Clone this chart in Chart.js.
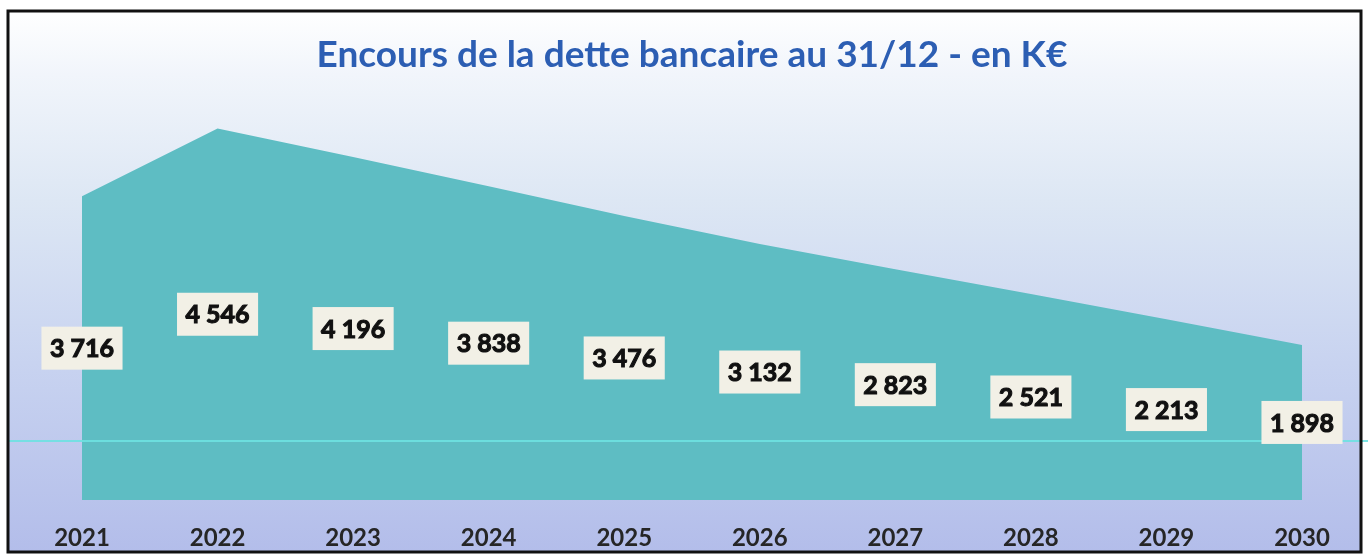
<!DOCTYPE html>
<html>
<head>
<meta charset="utf-8">
<title>Encours de la dette bancaire</title>
<script src="https://cdn.jsdelivr.net/npm/chart.js@4/dist/chart.umd.min.js"></script>
<style>
  body { margin: 0; background: #fff; }
  #wrap { width: 1368px; height: 556px; }
</style>
</head>
<body>
<div id="wrap"><canvas id="detteChart" width="1368" height="556"></canvas></div>
<script>
const years = ['2021', '2022', '2023', '2024', '2025', '2026', '2027', '2028', '2029', '2030'];
const encours = [3716, 4546, 4196, 3838, 3476, 3132, 2823, 2521, 2213, 1898];
const chartTitle = 'Encours de la dette bancaire au 31/12 - en K€';

// nombre avec espace pour les milliers : 3 716
function fmt(n) {
    return String(n).replace(/\B(?=(\d{3})+(?!\d))/g, ' ');
}

// fond dégradé + cadre noir
const framePlugin = {
    id: 'frame',
    beforeDraw(chart) {
        const ctx = chart.ctx;
        const g = ctx.createLinearGradient(0, 10, 0, 553);
        g.addColorStop(0, '#ffffff');
        g.addColorStop(0.12, '#f1f5fb');
        g.addColorStop(0.35, '#dde7f4');
        g.addColorStop(0.65, '#c8d3f0');
        g.addColorStop(1, '#b3bdea');
        ctx.save();
        ctx.fillStyle = g;
        ctx.fillRect(7, 10, 1355, 543);
        ctx.restore();
    },
    afterDatasetsDraw(chart) {
        // ligne cyan horizontale du scan
        const ctx = chart.ctx;
        ctx.save();
        ctx.strokeStyle = 'rgba(110,225,225,0.9)';
        ctx.lineWidth = 2;
        ctx.beginPath();
        ctx.moveTo(7, 441);
        ctx.lineTo(1368, 441);
        ctx.stroke();
        ctx.restore();
    },
    afterDraw(chart) {
        const ctx = chart.ctx;
        ctx.save();
        ctx.strokeStyle = '#111';
        ctx.lineWidth = 3;
        ctx.strokeRect(8, 11, 1353, 541);
        ctx.restore();
    }
};

// étiquettes de valeurs au milieu de l'aire
const labelPlugin = {
    id: 'valueLabels',
    afterDatasetsDraw(chart) {
        const ctx = chart.ctx;
        const xs = chart.scales.x;
        const ys = chart.scales.y;
        ctx.save();
        ctx.font = 'bold 25px Lato';
        ctx.textAlign = 'center';
        ctx.textBaseline = 'middle';
        ctx.lineWidth = 1.1;
        ctx.strokeStyle = '#111';
        encours.forEach((v, i) => {
            const x = xs.getPixelForValue(i);
            const y = ys.getPixelForValue(v / 2);
            const txt = fmt(v);
            const w = ctx.measureText(txt).width + 17;
            const h = 43;
            ctx.fillStyle = '#f2f0e6';
            ctx.fillRect(x - w / 2, y - h / 2, w, h);
            ctx.fillStyle = '#111';
            ctx.fillText(txt, x, y + 1);
            ctx.strokeText(txt, x, y + 1);
        });
        ctx.restore();
    }
};

const ctx = document.getElementById('detteChart').getContext('2d');
const chart = new Chart(ctx, {
    type: 'line',
    data: {
        labels: years,
        datasets: [{
            label: 'Encours',
            data: encours,
            fill: 'origin',
            backgroundColor: '#5ebdc3',
            borderWidth: 0,
            pointRadius: 0,
            tension: 0
        }]
    },
    options: {
        responsive: false,
        animation: false,
        layout: {
            padding: { top: 0, bottom: 3, left: 82, right: 66 }
        },
        plugins: {
            legend: { display: false },
            tooltip: { enabled: false },
            title: {
                display: true,
                text: chartTitle,
                color: '#2c5eb3',
                font: { family: 'Lato', size: 37, weight: 'bold' },
                padding: { top: 33, bottom: 14 }
            }
        },
        scales: {
            x: {
                offset: false,
                grid: { display: false, drawTicks: false },
                border: { display: false },
                afterFit(scale) { scale.height = 53; },
                ticks: {
                    color: '#262626',
                    padding: 24,
                    maxRotation: 0,
                    font: { family: 'Lato', size: 24, weight: 'bold' }
                }
            },
            y: {
                display: false,
                min: 0,
                max: 5000
            }
        }
    },
    plugins: [framePlugin, labelPlugin]
});
</script>
</body>
</html>
